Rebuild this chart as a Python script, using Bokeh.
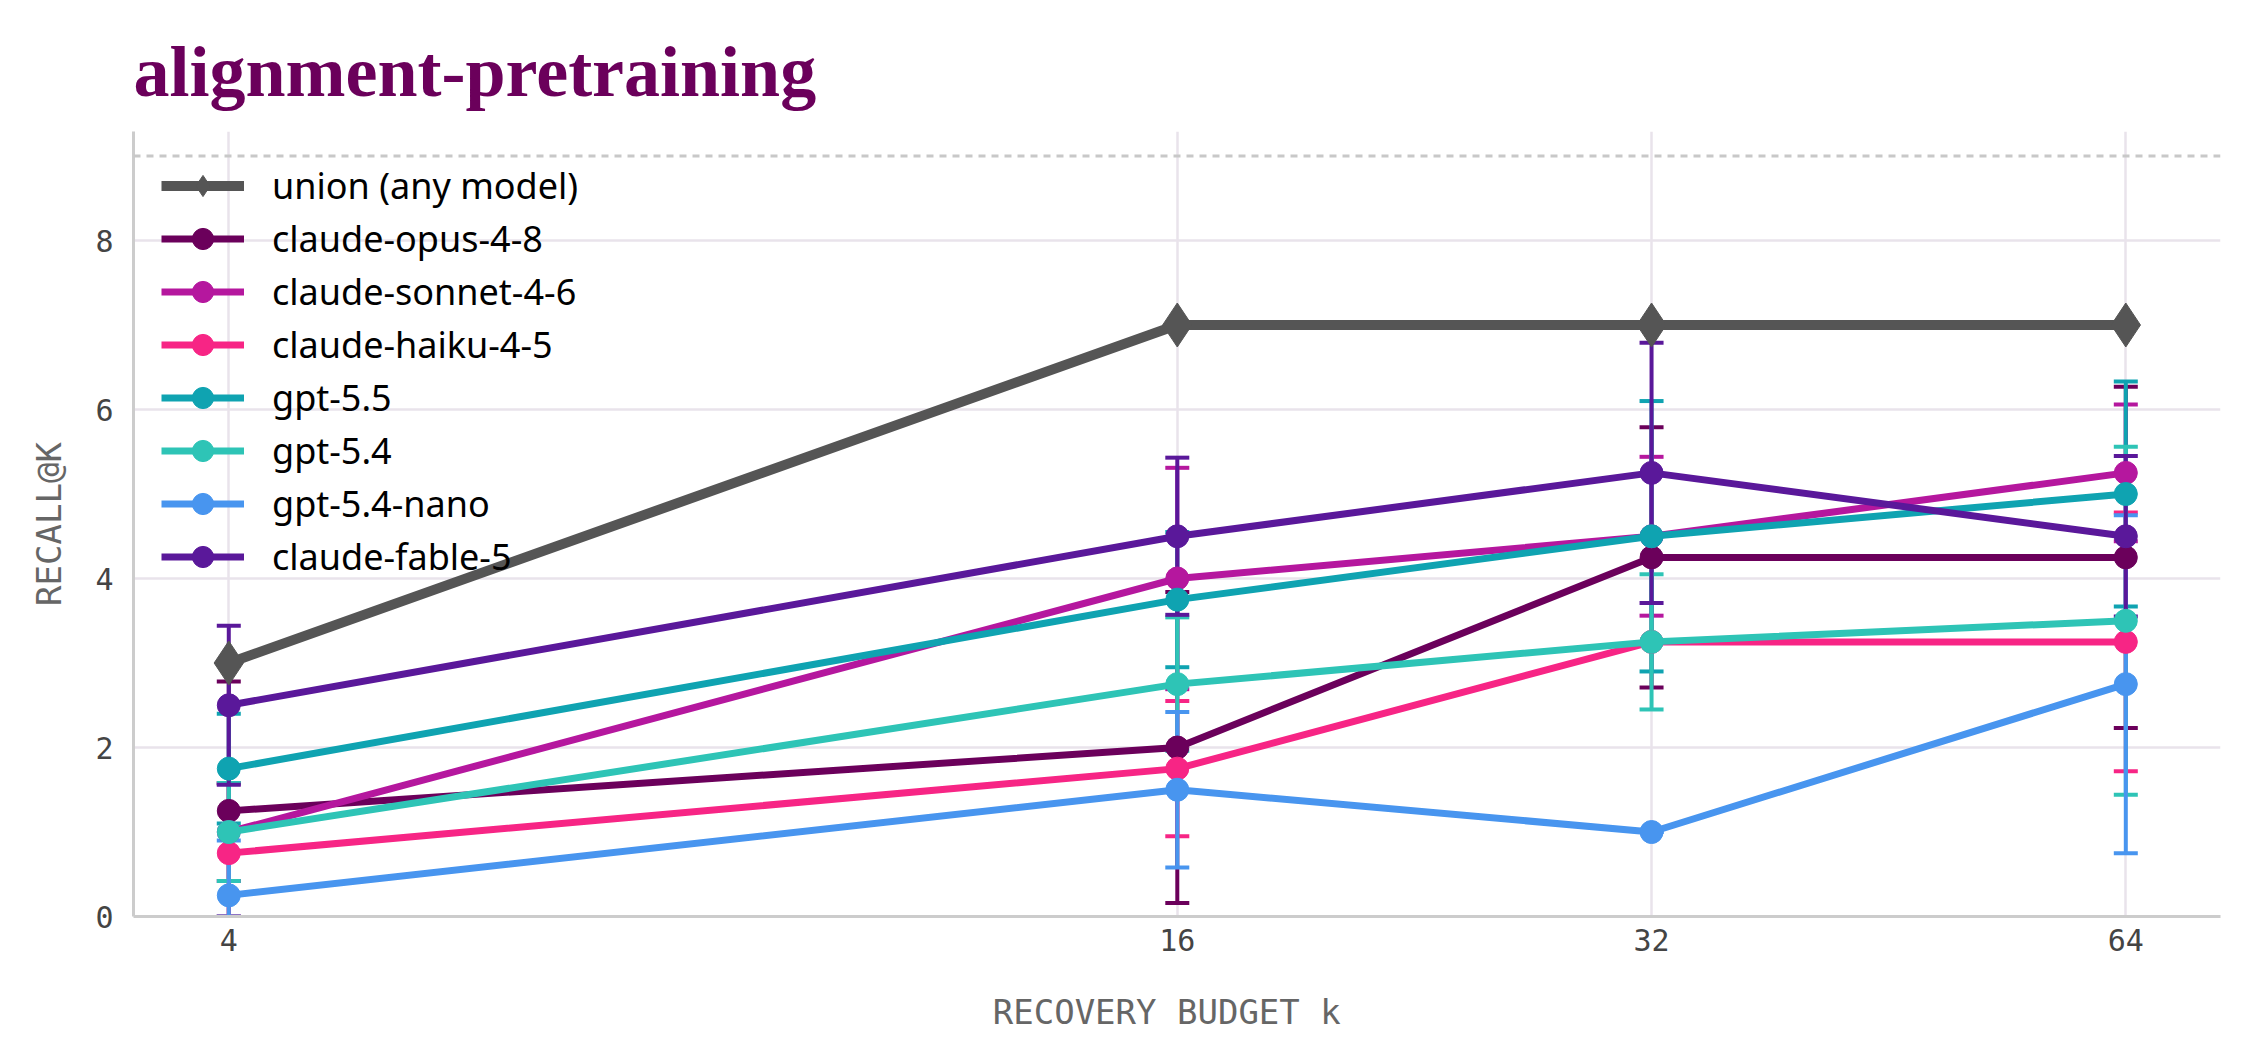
from bokeh.plotting import figure
from bokeh.models import (FixedTicker, BasicTickFormatter, Span, Legend, LegendItem,
                          ColumnDataSource, Range1d)
from bokeh.embed import file_html
from bokeh.resources import INLINE

# ---------------- data ----------------
title_text = "alignment-pretraining"
k_values = [4, 16, 32, 64]
y_ticks = [0, 2, 4, 6, 8]
total_items = 9
union_recall = [3, 7, 7, 7]

model_names = ["claude-opus-4-8", "claude-sonnet-4-6", "claude-haiku-4-5",
               "gpt-5.5", "gpt-5.4", "gpt-5.4-nano", "claude-fable-5"]
model_colors = ["#6b005b", "#b5179e", "#f72585", "#0fa3b1", "#2ec4b6", "#4895ef", "#5a189a"]

opus_mean = [1.25, 2.0, 4.25, 4.25]
opus_err = [1.53, 1.84, 1.54, 2.02]
sonnet_mean = [1.0, 4.0, 4.5, 5.25]
sonnet_err = [0.58, 1.31, 0.94, 0.81]
haiku_mean = [0.75, 1.75, 3.25, 3.25]
haiku_err = [0.82, 0.80, 0.0, 1.53]
gpt55_mean = [1.75, 3.75, 4.5, 5.0]
gpt55_err = [0.65, 0.80, 1.60, 1.33]
gpt54_mean = [1.0, 2.75, 3.25, 3.5]
gpt54_err = [0.58, 0.79, 0.80, 2.06]
nano_mean = [0.25, 1.5, 1.0, 2.75]
nano_err = [0.65, 0.92, 0.0, 2.0]
fable_mean = [2.5, 4.5, 5.25, 4.5]
fable_err = [0.94, 0.93, 1.54, 0.95]

means = [opus_mean, sonnet_mean, haiku_mean, gpt55_mean, gpt54_mean, nano_mean, fable_mean]
errs = [opus_err, sonnet_err, haiku_err, gpt55_err, gpt54_err, nano_err, fable_err]

# ---------------- figure ----------------
p = figure(width=2255, height=1062, x_axis_type="log",
           x_range=Range1d(3.48, 73.5), y_range=Range1d(0, 9.29),
           output_backend="svg", toolbar_location=None,
           min_border_left=133, min_border_right=35, min_border_top=131, min_border_bottom=146,
           background_fill_color="white", border_fill_color="white")
p.outline_line_color = None

p.title.text = title_text
p.title.text_font = "Liberation Serif"
p.title.text_font_style = "bold"
p.title.text_font_size = "72px"
p.title.text_color = "#6b005b"
p.title.align = "left"
p.title.offset = 0
p.title.standoff = 40

# axes
p.xaxis.ticker = FixedTicker(ticks=k_values)
p.xaxis.formatter = BasicTickFormatter()
p.yaxis.ticker = FixedTicker(ticks=y_ticks)
for ax in (p.xaxis, p.yaxis):
    ax.axis_line_color = "#cccccc"
    ax.axis_line_width = 3
    ax.major_tick_line_color = None
    ax.minor_tick_line_color = None
    ax.major_label_text_font = "DejaVu Sans Mono"
    ax.major_label_text_font_size = "30px"
    ax.major_label_text_color = "#444444"
    ax.axis_label_text_font = "DejaVu Sans Mono"
    ax.axis_label_text_font_size = "34px"
    ax.axis_label_text_color = "#666666"
    ax.axis_label_text_font_style = "normal"
p.xaxis.axis_label = "RECOVERY BUDGET  k"
p.yaxis.axis_label = "RECALL@K"
p.xaxis.major_label_standoff = 6
p.yaxis.major_label_standoff = 14
p.xaxis.axis_label_standoff = 38
p.yaxis.axis_label_standoff = 23

p.xgrid.grid_line_color = "#e9e3eb"
p.ygrid.grid_line_color = "#e9e3eb"
p.xgrid.grid_line_width = 2.5
p.ygrid.grid_line_width = 2.5
p.xgrid.ticker = FixedTicker(ticks=k_values)
p.ygrid.ticker = FixedTicker(ticks=y_ticks)

p.add_layout(Span(location=total_items, dimension="width", line_color="#c8c8c8",
                  line_width=3, line_dash="7 6"))

# error bars first
for m, e, c in zip(means, errs, model_colors):
    lo = [max(0.0, a - b) for a, b in zip(m, e)]
    hi = [a + b for a, b in zip(m, e)]
    src = ColumnDataSource(dict(x=k_values, lo=lo, hi=hi))
    p.segment(x0="x", y0="lo", x1="x", y1="hi", source=src, line_color=c, line_width=4)
    p.scatter(x="x", y="lo", source=src, marker="dash", size=24, line_color=c, line_width=4)
    p.scatter(x="x", y="hi", source=src, marker="dash", size=24, line_color=c, line_width=4)

u_src = ColumnDataSource(dict(x=k_values, y=union_recall))
model_items = []
for name, m, c in zip(model_names, means, model_colors):
    src = ColumnDataSource(dict(x=k_values, y=m))
    l = p.line(x="x", y="y", source=src, line_color=c, line_width=7)
    s = p.scatter(x="x", y="y", source=src, marker="circle", size=23,
                  fill_color=c, line_color=c, line_width=1)
    model_items.append(LegendItem(label=name, renderers=[l, s]))

ul = p.line(x="x", y="y", source=u_src, line_color="#555555", line_width=10)
us = p.scatter(x="x", y="y", source=u_src, marker="diamond", size=44,
               fill_color="#555555", line_color="#555555")
items = [LegendItem(label="union (any model)", renderers=[ul, us])] + model_items

legend = Legend(items=items, location="top_left")
legend.border_line_color = None
legend.background_fill_alpha = 0
legend.label_text_font = "Noto Sans"
legend.label_text_font_size = "36px"
legend.label_text_color = "#000000"
legend.glyph_width = 83
legend.glyph_height = 53
legend.label_height = 50
legend.spacing = 0
legend.label_standoff = 28
legend.margin = 28
legend.padding = 12
p.add_layout(legend)

open("out.html", "w").write(file_html(p, INLINE))
